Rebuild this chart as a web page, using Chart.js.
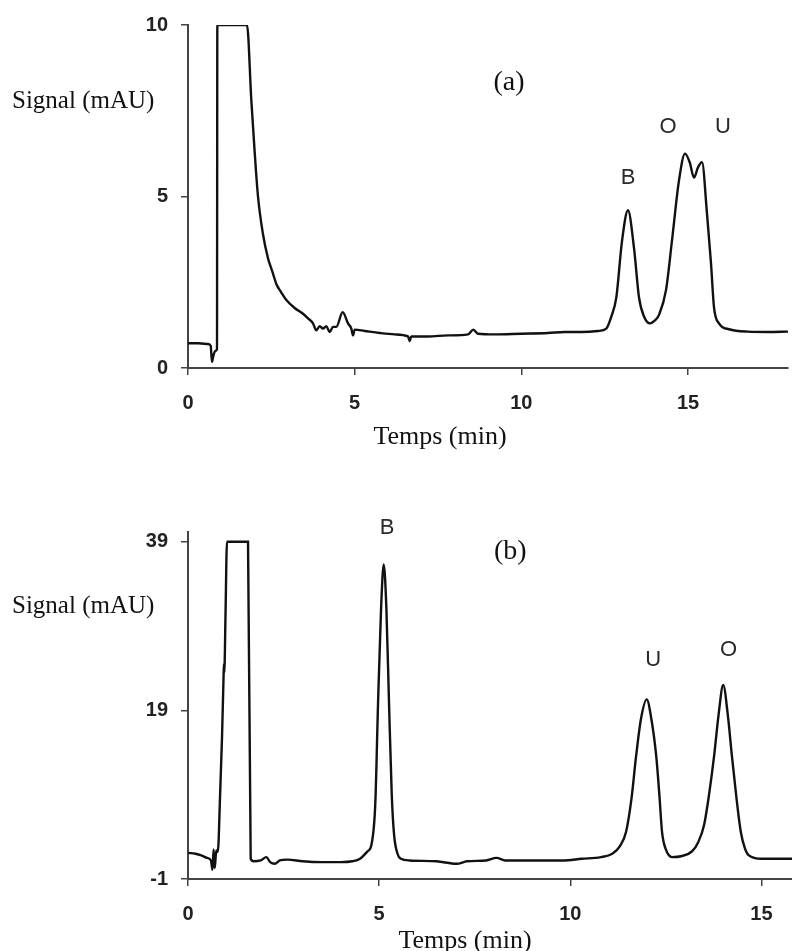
<!DOCTYPE html>
<html lang="fr">
<head>
<meta charset="utf-8">
<script src="https://cdn.jsdelivr.net/npm/chart.js@4.4.1/dist/chart.umd.min.js"></script>
<style>
  html, body { margin: 0; padding: 0; background: #fff; }
  #wrap { position: relative; width: 792px; height: 951px; overflow: hidden; }
  canvas { position: absolute; left: 0; }
  #chartA { top: 0; }
  #chartB { top: 475px; }
</style>
</head>
<body>
<div id="wrap">
  <canvas id="chartA" width="792" height="475"></canvas>
  <canvas id="chartB" width="792" height="476"></canvas>
</div>
<script>
// Chromatogramme (a) : temps (min) / signal (mAU)
const timeA = [0, 0.3, 0.6, 0.68, 0.72, 0.76, 0.82, 0.87, 0.88, 1.77, 1.9, 2.0, 2.1, 2.25, 2.4, 2.5, 2.55, 2.65, 2.8, 2.95,
  3.2, 3.45, 3.6, 3.75, 3.85, 3.95, 4.05, 4.15, 4.25, 4.35, 4.45, 4.64, 4.8, 4.9, 4.95, 5.0, 5.3, 5.75, 6.2, 6.6,
  6.65, 6.7, 7.2, 7.8, 8.4, 8.56, 8.7, 9.2, 10, 10.8, 11.3, 11.8, 12.3, 12.55, 12.7, 12.85, 13.02, 13.2, 13.38, 13.53,
  13.68, 13.86, 14.0, 14.13, 14.34, 14.52, 14.73, 14.91, 15.05, 15.18, 15.3, 15.42, 15.57, 15.69, 15.78, 15.93, 16.23, 16.8, 17.4, 18];
const signalA = [0.72, 0.72, 0.7, 0.65, 0.18, 0.35, 0.5, 0.55, 10, 10, 7.8, 6.3, 5.0, 3.9, 3.2, 2.9, 2.75, 2.45, 2.2, 1.98,
  1.75, 1.58, 1.45, 1.3, 1.1, 1.22, 1.15, 1.22, 1.05, 1.2, 1.2, 1.63, 1.3, 1.15, 0.95, 1.12, 1.08, 1.02, 0.98, 0.92,
  0.78, 0.92, 0.92, 0.95, 0.98, 1.12, 1.0, 0.98, 1.0, 1.02, 1.05, 1.05, 1.08, 1.15, 1.5, 2.06, 3.7, 4.6, 3.5, 2.06,
  1.5, 1.3, 1.38, 1.55, 2.27, 3.72, 5.47, 6.25, 6.0, 5.55, 5.85, 6.0, 4.5, 3.05, 1.77, 1.3, 1.13, 1.06, 1.05, 1.06];
const ticksXA = [0, 5, 10, 15];
const ticksYA = [0, 5, 10];

// Chromatogramme (b)
const timeB = [0, 0.2, 0.35, 0.5, 0.6, 0.64, 0.67, 0.7, 0.74, 0.78, 0.84, 0.89, 0.93, 0.94, 0.95, 0.98, 1.02, 1.57, 1.64, 1.72,
  1.9, 2.05, 2.15, 2.27, 2.4, 2.6, 3.0, 3.5, 4.0, 4.3, 4.5, 4.7, 4.8, 4.9, 4.97, 5.05, 5.12, 5.19, 5.26, 5.33,
  5.39, 5.48, 5.57, 5.8, 6.5, 7.03, 7.3, 7.8, 8.07, 8.3, 9.0, 9.8, 10.3, 10.8, 11.1, 11.3, 11.46, 11.6, 11.72, 11.85,
  12.0, 12.12, 12.25, 12.33, 12.4, 12.5, 12.66, 12.9, 13.19, 13.35, 13.5, 13.63, 13.76, 13.88, 14.0, 14.12, 14.23, 14.35, 14.46, 14.57,
  14.67, 15.0, 15.5, 15.8];
const signalB = [2.1, 2.0, 1.8, 1.5, 1.2, 0.1, 2.5, 0.3, 2.4, 2.2, 9, 15.8, 23, 24.5, 23.5, 30, 39, 39, 1.4, 1.1,
  1.2, 1.6, 1.0, 0.8, 1.2, 1.3, 1.1, 1.0, 1.0, 1.1, 1.4, 2.3, 3.1, 8, 19.6, 31, 36.3, 31, 19.6, 9,
  4.3, 2.0, 1.4, 1.2, 1.1, 0.8, 1.1, 1.2, 1.5, 1.2, 1.2, 1.2, 1.4, 1.6, 2.0, 2.9, 4.6, 8.5, 13.5, 18,
  20.3, 18, 13.5, 9, 4.6, 2.5, 1.6, 1.7, 2.3, 3.4, 5.4, 9, 13.5, 18.5, 22.0, 18.5, 13.5, 8.5, 4.6, 2.6,
  1.8, 1.4, 1.4, 1.4];
const ticksXB = [0, 5, 10, 15];
const ticksYB = [-1, 19, 39];

const peakNamesA = ["B", "O", "U"];
const peakNamesB = ["B", "U", "O"];

const SERIF = "'Liberation Serif', 'Times New Roman', serif";
const SANS = "'Liberation Sans', Arial, sans-serif";
const AXIS = "#444";

// Textes : titres d'axes (pixels) et noms des pics (coordonnées des données)
const textPlugin = {
  id: "texts",
  afterDraw(chart, args, opts) {
    const { ctx, scales } = chart;
    ctx.save();
    ctx.fillStyle = "#111";
    ctx.font = `25px ${SERIF}`;
    ctx.textAlign = "left";
    ctx.textBaseline = "alphabetic";
    ctx.fillText("Signal (mAU)", 12, opts.ylabelY);
    ctx.textAlign = "center";
    ctx.font = `26px ${SERIF}`;
    ctx.fillText("Temps (min)", opts.xlabelX, opts.xlabelY);
    ctx.font = `28px ${SERIF}`;
    ctx.fillText(opts.panel, scales.x.getPixelForValue(opts.panelAt[0]), scales.y.getPixelForValue(opts.panelAt[1]));
    ctx.font = `22px ${SANS}`;
    ctx.fillStyle = "#2a2a2a";
    ctx.textBaseline = "middle";
    opts.names.forEach((n, i) => {
      const p = opts.namesAt[i];
      ctx.fillText(n, scales.x.getPixelForValue(p[0]), scales.y.getPixelForValue(p[1]));
    });
    ctx.restore();
  }
};

function axis(ticks, min, max, pad, isX) {
  return {
    type: "linear",
    min, max,
    afterBuildTicks: s => { s.ticks = ticks.map(v => ({ value: v })); },
    afterFit: s => { if (isX) s.height = 60; else s.width = 188; },
    border: { display: true, color: AXIS, width: 2 },
    grid: { drawOnChartArea: false, drawTicks: true, tickLength: 7, color: AXIS, lineWidth: 1.5 },
    ticks: { padding: pad, color: "#222", font: { family: SANS, size: 20, weight: "bold" } }
  };
}

function makeChart(id, times, values, xt, yt, xmax, ymin, ymax, padding, texts) {
  const pts = times.map((t, i) => ({ x: t, y: values[i] }));
  return new Chart(document.getElementById(id), {
    type: "line",
    data: { datasets: [{ data: pts, borderColor: "#111", borderWidth: 2.4, pointRadius: 0,
      cubicInterpolationMode: "monotone", fill: false }] },
    options: {
      responsive: false, animation: false, devicePixelRatio: 1,
      layout: { padding },
      scales: { x: axis(xt, 0, xmax, 16, true), y: axis(yt, ymin, ymax, 13, false) },
      plugins: { legend: { display: false }, tooltip: { enabled: false }, texts }
    },
    plugins: [textPlugin]
  });
}

makeChart("chartA", timeA, signalA, ticksXA, ticksYA, 18, 0, 10,
  { top: 24, right: 4, bottom: 47, left: 0 },
  { panel: "(a)", panelAt: [9.63, 8.1], names: peakNamesA,
    namesAt: [[13.2, 5.55], [14.4, 7.03], [16.05, 7.03]], ylabelY: 108, xlabelX: 440, xlabelY: 444 });

makeChart("chartB", timeB, signalB, ticksXB, ticksYB, 15.8, -1, 40.15,
  { top: 57, right: 0, bottom: 12, left: 0 },
  { panel: "(b)", panelAt: [8.43, 36.9], names: peakNamesB,
    namesAt: [[5.21, 40.6], [12.17, 25.0], [14.14, 26.2]], ylabelY: 138, xlabelX: 465, xlabelY: 473 });
</script>
</body>
</html>
